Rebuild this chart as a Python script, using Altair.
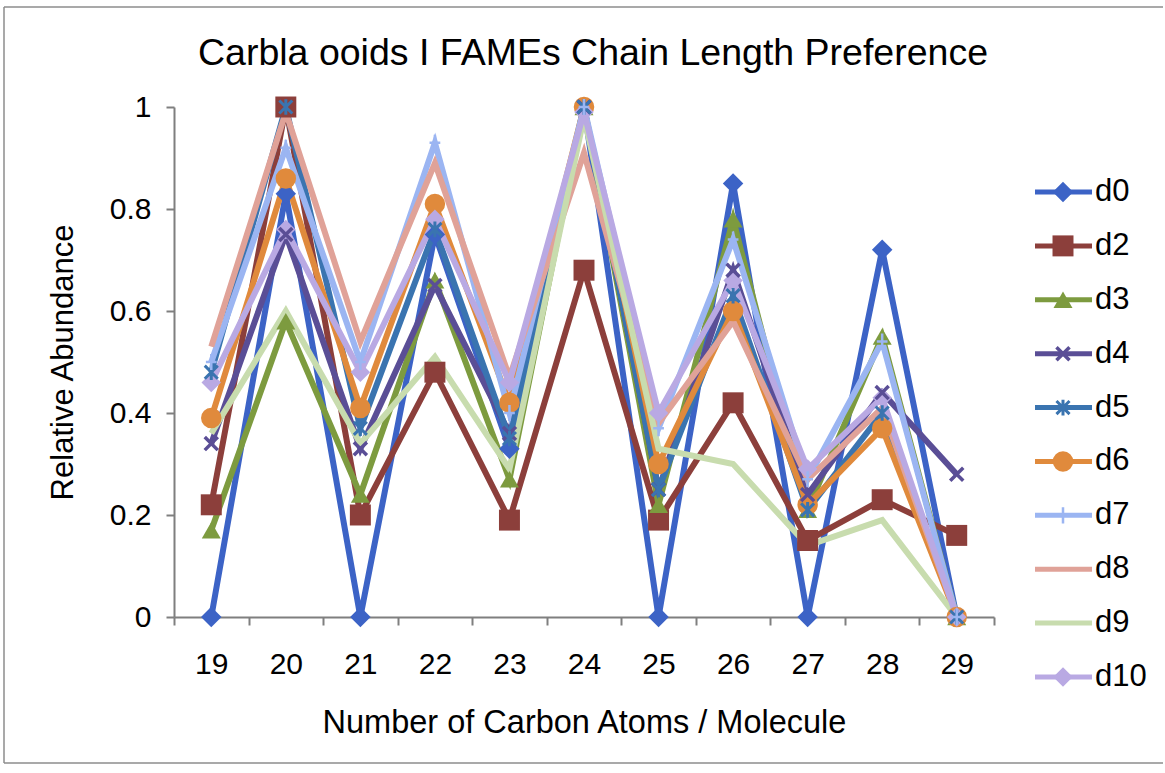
import altair as alt
import pandas as pd

FONT = "Liberation Sans"

# Chain length (number of carbon atoms) on the category axis
carbons = [19, 20, 21, 22, 23, 24, 25, 26, 27, 28, 29]
series_names = ["d0", "d2", "d3", "d4", "d5", "d6", "d7", "d8", "d9", "d10"]

# Relative abundance per sampling day
d0 = [0.00, 0.83, 0.00, 0.75, 0.33, 1.00, 0.00, 0.85, 0.00, 0.72, 0.00]
d2 = [0.22, 1.00, 0.20, 0.48, 0.19, 0.68, 0.19, 0.42, 0.15, 0.23, 0.16]
d3 = [0.17, 0.58, 0.24, 0.66, 0.27, 1.00, 0.22, 0.78, 0.21, 0.55, 0.00]
d4 = [0.34, 0.75, 0.33, 0.65, 0.36, 1.00, 0.25, 0.68, 0.24, 0.44, 0.28]
d5 = [0.48, 1.00, 0.37, 0.76, 0.35, 1.00, 0.25, 0.63, 0.21, 0.40, 0.00]
d6 = [0.39, 0.86, 0.41, 0.81, 0.42, 1.00, 0.30, 0.60, 0.22, 0.37, 0.00]
d7 = [0.50, 0.92, 0.50, 0.93, 0.40, 1.00, 0.37, 0.74, 0.27, 0.54, 0.00]
d8 = [0.53, 0.99, 0.54, 0.89, 0.47, 0.91, 0.38, 0.58, 0.27, 0.41, 0.00]
d9 = [0.36, 0.60, 0.34, 0.51, 0.29, 0.98, 0.33, 0.30, 0.14, 0.19, 0.00]
d10 = [0.46, 0.76, 0.48, 0.78, 0.46, 0.99, 0.40, 0.66, 0.29, 0.43, 0.00]

series_values = [d0, d2, d3, d4, d5, d6, d7, d8, d9, d10]

chart_title = "Carbla ooids I FAMEs Chain Length Preference"

# Styling per series
palette = {
    "d0": "#3C63C6", "d2": "#8C3F3B", "d3": "#7D9B3F", "d4": "#5A4E96",
    "d5": "#3A74B0", "d6": "#E08A3C", "d7": "#9BB5F2", "d8": "#E0A298",
    "d9": "#C8DCAE", "d10": "#B9A9E3",
}
X_PATH = "M-1,-1L1,1M-1,1L1,-1"
STAR_PATH = "M-1,-1L1,1M-1,1L1,-1M0,-1.2L0,1.2"
PLUS_PATH = "M0,-1.2L0,1.2M-0.8,0L0.8,0"
marker_shape = {
    "d0": "diamond", "d2": "square", "d3": "triangle-up", "d4": X_PATH,
    "d5": STAR_PATH, "d6": "circle", "d7": PLUS_PATH, "d10": "diamond",
}
marker_size = {
    "d0": 420, "d2": 440, "d3": 360, "d4": 170, "d5": 170,
    "d6": 420, "d7": 180, "d10": 380,
}
marker_stroke = {"d4": 3.5, "d5": 3.0, "d7": 2.5}
filled_series = ["d0", "d2", "d3", "d6", "d10"]
stroked_series = ["d4", "d5", "d7"]
LINE_W = 6

rows = []
for name, vals in zip(series_names, series_values):
    for c, v in zip(carbons, vals):
        rows.append({"carbon": c, "series": name, "value": v})
df = pd.DataFrame(rows)


def add_style(frame):
    frame = frame.copy()
    frame["shape"] = frame["series"].map(marker_shape).fillna("circle")
    frame["size"] = frame["series"].map(marker_size).fillna(0)
    frame["sw"] = frame["series"].map(marker_stroke).fillna(0)
    return frame


df = add_style(df)
legend_df = add_style(pd.DataFrame({"series": series_names}))

color_enc = alt.Color(
    "series:N",
    scale=alt.Scale(domain=series_names, range=[palette[s] for s in series_names]),
    legend=None,
)

x_enc = alt.X(
    "carbon:O",
    scale=alt.Scale(type="band", paddingInner=0, paddingOuter=0),
    bandPosition=0.5,
    axis=alt.Axis(
        title="Number of Carbon Atoms / Molecule",
        labelAngle=0,
        tickBand="extent",
        labelPadding=24,
        titlePadding=27,
        titleFontSize=32.5,
    ),
)
y_enc = alt.Y(
    "value:Q",
    scale=alt.Scale(domain=[0, 1], nice=False),
    axis=alt.Axis(
        title="Relative Abundance",
        values=[0, 0.2, 0.4, 0.6, 0.8, 1.0],
        format="~g",
        labelPadding=15,
        titlePadding=30,
    ),
)

lines = alt.Chart(df).mark_line(strokeWidth=LINE_W).encode(x=x_enc, y=y_enc, color=color_enc)

filled_pts = (
    alt.Chart(df)
    .transform_filter(alt.FieldOneOfPredicate(field="series", oneOf=filled_series))
    .mark_point(filled=True, opacity=1)
    .encode(
        x=x_enc, y=y_enc, color=color_enc,
        shape=alt.Shape("shape:N", scale=None),
        size=alt.Size("size:Q", scale=None),
    )
)

stroked_pts = (
    alt.Chart(df)
    .transform_filter(alt.FieldOneOfPredicate(field="series", oneOf=stroked_series))
    .mark_point(filled=False, opacity=1)
    .encode(
        x=x_enc, y=y_enc, color=color_enc,
        shape=alt.Shape("shape:N", scale=None),
        size=alt.Size("size:Q", scale=None),
        strokeWidth=alt.StrokeWidth("sw:Q", scale=None),
    )
)

main = alt.layer(lines, filled_pts, stroked_pts)

# Legend: a line sample with its marker, stacked on the right
legend_y = alt.Y(
    "series:N",
    scale=alt.Scale(type="point", domain=series_names, range=[85, 570], padding=0),
    axis=None,
)
leg_lines = alt.Chart(legend_df).mark_rule(strokeWidth=5).encode(
    y=legend_y, x=alt.value(861), x2=alt.value(918), color=color_enc
)
leg_filled = (
    alt.Chart(legend_df)
    .transform_filter(alt.FieldOneOfPredicate(field="series", oneOf=filled_series))
    .mark_point(filled=True, opacity=1)
    .encode(
        y=legend_y, x=alt.value(889), color=color_enc,
        shape=alt.Shape("shape:N", scale=None),
        size=alt.Size("size:Q", scale=None),
    )
)
leg_stroked = (
    alt.Chart(legend_df)
    .transform_filter(alt.FieldOneOfPredicate(field="series", oneOf=stroked_series))
    .mark_point(filled=False, opacity=1)
    .encode(
        y=legend_y, x=alt.value(889), color=color_enc,
        shape=alt.Shape("shape:N", scale=None),
        size=alt.Size("size:Q", scale=None),
        strokeWidth=alt.StrokeWidth("sw:Q", scale=None),
    )
)
leg_text = alt.Chart(legend_df).mark_text(
    align="left", baseline="middle", font=FONT, fontSize=31, color="black"
).encode(y=legend_y, x=alt.value(921), text="series:N")

legend = alt.layer(leg_lines, leg_filled, leg_stroked, leg_text)

# Chart title, set inside the chart-area border
one = pd.DataFrame({"title": [chart_title]})
title_text = alt.Chart(one).mark_text(
    align="center", baseline="alphabetic", font=FONT, fontSize=37.5, color="black"
).encode(x=alt.value(419), y=alt.value(-42), text="title:N")

# Outer chart-area border (left, top and bottom edges)
border_style = dict(color="#8c8c8c", strokeWidth=1.5)
border_top = alt.Chart(one).mark_rule(**border_style).encode(
    x=alt.value(-170), x2=alt.value(989), y=alt.value(-100)
)
border_left = alt.Chart(one).mark_rule(**border_style).encode(
    x=alt.value(-170), y=alt.value(-100), y2=alt.value(656)
)
border_bottom = alt.Chart(one).mark_rule(**border_style).encode(
    x=alt.value(-170), x2=alt.value(989), y=alt.value(656)
)

chart = (
    alt.layer(main, legend, title_text, border_top, border_left, border_bottom)
    .resolve_scale(y="independent")
    .properties(
        width=820,
        height=510,
        padding={"left": 3, "top": 6, "right": 0, "bottom": 0},
    )
    .configure_view(strokeWidth=0)
    .configure_axis(
        domainColor="#7f7f7f", domainWidth=2, tickColor="#7f7f7f", tickWidth=2,
        tickSize=8, grid=False, labelFont=FONT, titleFont=FONT,
        labelFontSize=30, titleFontSize=31, labelColor="black", titleColor="black",
        titleFontWeight="normal",
    )
)

chart.save("out.html", embed_options={"renderer": "svg", "actions": False})
